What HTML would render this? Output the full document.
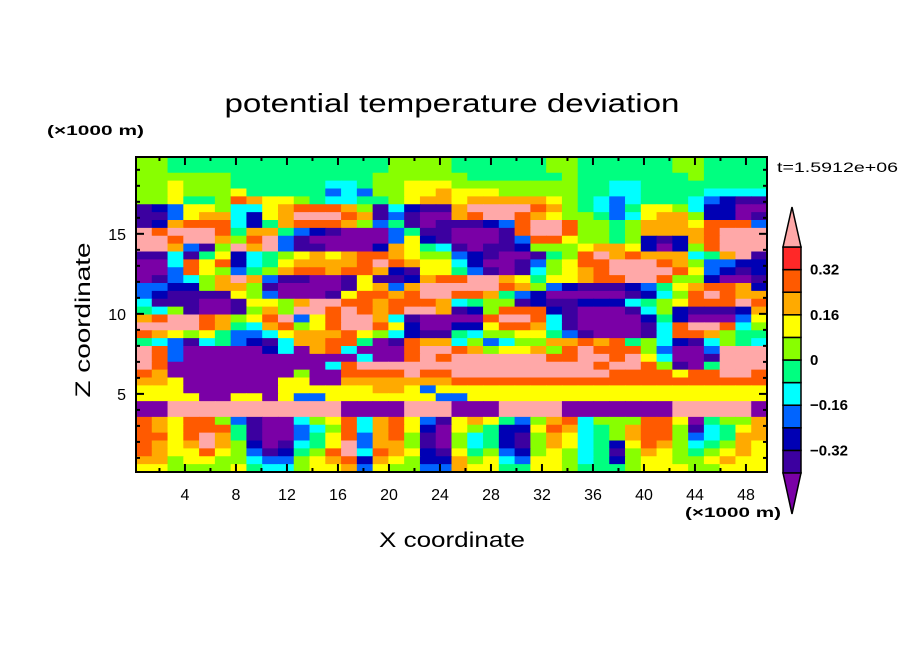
<!DOCTYPE html>
<html><head><meta charset="utf-8"><style>
html,body{margin:0;padding:0;background:#fff;}
svg{display:block;}
text{font-family:"Liberation Sans",sans-serif;fill:#000;}
</style></head><body>
<svg id="chart" width="904" height="654" viewBox="0 0 904 654" xmlns="http://www.w3.org/2000/svg">
<g id="field"></g>
<g id="frame"></g>
<g id="cbar"></g>
<text x="452" y="112" font-size="26" text-anchor="middle" textLength="455" lengthAdjust="spacingAndGlyphs">potential temperature deviation</text>
<text x="47" y="135" font-size="14" font-weight="bold" textLength="97" lengthAdjust="spacingAndGlyphs">(×1000 m)</text>
<text x="685" y="517" font-size="14" font-weight="bold" textLength="96" lengthAdjust="spacingAndGlyphs">(×1000 m)</text>
<text x="452" y="547" font-size="21" text-anchor="middle" textLength="146" lengthAdjust="spacingAndGlyphs">X coordinate</text>
<text x="0" y="0" font-size="21" text-anchor="middle" textLength="155" lengthAdjust="spacingAndGlyphs" transform="translate(90,320) rotate(-90)">Z coordinate</text>
<text x="777" y="172" font-size="14" textLength="121" lengthAdjust="spacingAndGlyphs">t=1.5912e+06</text>
</svg>
<script>
// ---- data ----
const xDomain = [0.16, 49.65];
const zDomain = [0.12, 19.8];
const xTicks = [4, 8, 12, 16, 20, 24, 28, 32, 36, 40, 44, 48];
const xMinorTicks = [2, 6, 10, 14, 18, 22, 26, 30, 34, 38, 42, 46];
const zTicks = [5, 10, 15];
const zMinorTicks = [1,2,3,4,6,7,8,9,11,12,13,14,16,17,18,19];
const levelBounds = [-0.4, -0.32, -0.24, -0.16, -0.08, 0, 0.08, 0.16, 0.24, 0.32, 0.4];
const levelLabels = ["0.32", "0.16", "0", "-0.16", "-0.32"];
const levelLabelValues = [0.32, 0.16, 0, -0.16, -0.32];
const levelColors = ["#7a00a6","#3c00a0","#0000b4","#0064ff","#00ffff","#00ff80","#88ff00","#ffff00","#ffaa00","#ff5a00","#ff2828","#ffa8a8"];
// field rows (top to bottom), each char = class index 0..b (value = -0.44 + 0.08*k)
const fieldRows = [
"6655555555555555666655555566555555665555",
"6655555555555555666655555566555555665555",
"6666665555555556666665555556555555565555",
"6676665555554456677766666666554455555555",
"6676667555553436677877766666554455554444",
"6675569877654455678878888876543455543211",
"123776447899986142118bbbb986543577642200",
"1137884278bbb981310089bb9876653478862201",
"1289994258999863510111239bb9665688879993",
"b9bbb95885321000351100019bb9665688889bbb",
"bb9bb869b3100000372100013997665621289bbb",
"bb8316b8b3110002875410112666788720269bbb",
"11415724567878998766321001569b89888458b1",
"004979245788889b98774200136799bbb9863322",
"003976356899899821775310146789bbbb973212",
"013468b83110017112899bb87577899bb9662001",
"332268861000017838bbbbb98632111235789982",
"321111763000179989bb9985320000012469b988",
"41110017768bb9989998456612112224567999b9",
"5461001686bb9b989bb812699921000146211128",
"89bb98679b379bb84100009bb941000025200037",
"bbbb985489679bb97200227998410000149bb946",
"9876753347888976421154667753100014998655",
"5431453214889950198846346688989564214654",
"b93000002408940009bb98677869b99963003bbb",
"b93000000000004009b9bbbbbb99bb9b74001bbb",
"b9000000000049bbbbbbbbbbbbbbb9bb96105bbb",
"98000000006009999b99bbbbbbbbbb9999799bb9",
"8870000007700888888899999999999999999999",
"7770000007777778873777777777777777777777",
"7777007707337777777337777777777777777777",
"00bbbbbbbbbbb0000bbb000bbbb0000000bbbbb0",
"00bbbbbbbbbbb0000bbb000bbbb0000000bbbbb0",
"9879963100467948973178753689466699705668",
"9879995100346948972076522798456899614578",
"9979b85100357938961064521687456899634588",
"9878b86201457b38861064521687452798645687",
"9877976312569b49872175632676451687656787",
"8867766433678928762286743776452677667877",
"7766667544677837663387755776555677766777"
];
const GRID_COLS = 40;
// ---- scales ----
const PL = 136, PR = 767, PT = 157, PB = 472;
function xs(u){ return PL + (u - xDomain[0]) / (xDomain[1] - xDomain[0]) * (PR - PL); }
function zs(z){ return PB - (z - zDomain[0]) / (zDomain[1] - zDomain[0]) * (PB - PT); }
function valueOf(ch){ const k = parseInt(ch, 16); return -0.44 + 0.08 * k; }
function colorOf(v){ let k = 0; while (k < levelBounds.length && v >= levelBounds[k] - 1e-9) k++; return levelColors[k]; }
const NS = "http://www.w3.org/2000/svg";
function mk(tag, attrs, parent){ const e = document.createElementNS(NS, tag); for (const a in attrs) e.setAttribute(a, attrs[a]); parent.appendChild(e); return e; }
// ---- field ----
const field = document.getElementById('field');
const nRows = fieldRows.length;
const du = (xDomain[1] - xDomain[0]) / GRID_COLS;
const dz = (zDomain[1] - zDomain[0]) / nRows;
fieldRows.forEach((row, j) => {
  for (let i = 0; i < GRID_COLS; i++) {
    const ch = row[Math.min(i, row.length - 1)];
    const v = valueOf(ch);
    const u0 = xDomain[0] + i * du, z1 = zDomain[1] - j * dz;
    const x0 = xs(u0), x1 = xs(u0 + du), y0 = zs(z1), y1 = zs(z1 - dz);
    const r = mk('rect', {x: x0.toFixed(2), y: y0.toFixed(2), width: (x1 - x0 + 0.6).toFixed(2), height: (y1 - y0 + 0.6).toFixed(2), fill: colorOf(v)}, field);
    
    
  }
});
// ---- frame and ticks ----
const frame = document.getElementById('frame');
const fr = mk('rect', {x: PL, y: PT, width: PR - PL, height: PB - PT, fill: 'none', stroke: '#000', 'stroke-width': 2}, frame);


function tick(x1, y1, x2, y2){ const t = mk('line', {x1, y1, x2, y2, stroke: '#000', 'stroke-width': 2}, frame);   }
xTicks.forEach(t => { const x = xs(t); tick(x, PB, x, PB - 8); tick(x, PT, x, PT + 8);
  const lb = mk('text', {x: x, y: 500, 'font-size': 16, 'text-anchor': 'middle'}, frame); lb.textContent = t;
    });
xMinorTicks.forEach(t => { const x = xs(t); tick(x, PB, x, PB - 4); tick(x, PT, x, PT + 4); });
zTicks.forEach(t => { const y = zs(t); tick(PL, y, PL + 8, y); tick(PR, y, PR - 8, y);
  const lb = mk('text', {x: 126, y: y + 6, 'font-size': 16, 'text-anchor': 'end'}, frame); lb.textContent = t;
    });
zMinorTicks.forEach(t => { const y = zs(t); tick(PL, y, PL + 4, y); tick(PR, y, PR - 4, y); });
// ---- colorbar ----
const cbar = document.getElementById('cbar');
const CX0 = 783, CX1 = 801, CT = 247, CB = 473;
function cy(v){ return CB - (v - levelBounds[0]) / (levelBounds[levelBounds.length - 1] - levelBounds[0]) * (CB - CT); }
for (let k = 1; k < levelBounds.length; k++) {
  const y0 = cy(levelBounds[k]), y1 = cy(levelBounds[k - 1]);
  const b = mk('rect', {x: CX0, y: y0, width: CX1 - CX0, height: y1 - y0, fill: levelColors[k], stroke: '#000', 'stroke-width': 1.5}, cbar);
  
  
}
const tt = mk('polygon', {points: `${CX0},${CT} ${CX1},${CT} ${(CX0 + CX1) / 2},207`, fill: levelColors[11], stroke: '#000', 'stroke-width': 1.5}, cbar);


const tb = mk('polygon', {points: `${CX0},${CB} ${CX1},${CB} ${(CX0 + CX1) / 2},514`, fill: levelColors[0], stroke: '#000', 'stroke-width': 1.5}, cbar);


levelLabels.forEach((s, i) => {
  const t = mk('text', {x: 810, y: cy(levelLabelValues[i]) + 5, 'font-size': 15, 'font-weight': 'bold'}, cbar);
  t.textContent = s.replace('-', '\u2212');
  
  
});
</script>
</body></html>
